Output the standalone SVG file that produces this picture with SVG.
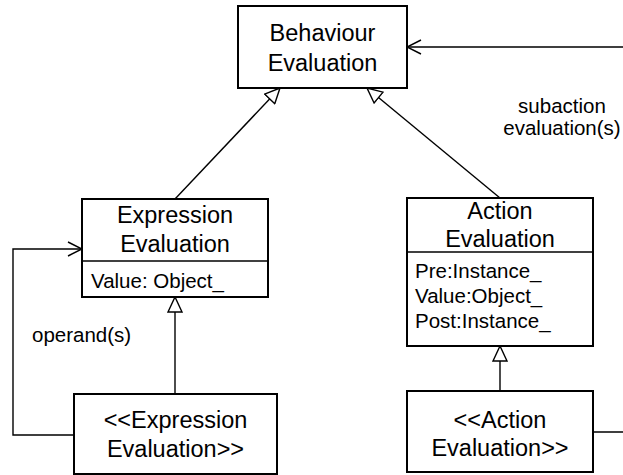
<svg xmlns="http://www.w3.org/2000/svg" width="623" height="475" viewBox="0 0 623 475">
<style>
.box{fill:#fff;stroke:#000;stroke-width:2}
.div{stroke:#000;stroke-width:1.5}
.t{font-family:"Liberation Sans",Arial,sans-serif;font-size:23.5px;fill:#000;text-anchor:middle}
.a{font-family:"Liberation Sans",Arial,sans-serif;font-size:20.5px;fill:#000}
.c{fill:none;stroke:#000;stroke-width:1.4}
</style>
<defs>
<marker id="tri" viewBox="0 0 16 16" refX="16" refY="8" markerWidth="16" markerHeight="16" markerUnits="userSpaceOnUse" orient="auto">
<path d="M1,1 L16,8 L1,15 Z" fill="#fff" stroke="#000" stroke-width="1.4"/>
</marker>
<marker id="open" viewBox="0 0 16 16" refX="15" refY="8" markerWidth="16" markerHeight="16" markerUnits="userSpaceOnUse" orient="auto">
<path d="M1,1 L15,8 L1,15" fill="none" stroke="#000" stroke-width="1.4"/>
</marker>
</defs>
<g id="connectors">
<path class="c" d="M175,199 L280,88" marker-end="url(#tri)"/>
<path class="c" d="M500,198 L367,88" marker-end="url(#tri)"/>
<path class="c" d="M175,394 L175,297" marker-end="url(#tri)"/>
<path class="c" d="M500,391 L500,346" marker-end="url(#tri)"/>
<path class="c" d="M74,435 H13 V249 H82" marker-end="url(#open)"/>
<path class="c" d="M593,432 H623 M623,47 H407" marker-end="url(#open)"/>
<text class="a" x="32" y="342">operand(s)</text>
<text class="a" x="562" y="113" text-anchor="middle">subaction</text>
<text class="a" x="562" y="135" text-anchor="middle">evaluation(s)</text>
</g>
<g id="behaviour">
<rect class="box" x="238" y="6" width="169" height="82"/>
<text class="t" x="322.5" y="41">Behaviour</text>
<text class="t" x="322.5" y="71">Evaluation</text>
</g>
<g id="expression">
<rect class="box" x="82" y="199" width="186" height="98"/>
<line class="div" x1="82" y1="261" x2="268" y2="261"/>
<text class="t" x="175" y="223">Expression</text>
<text class="t" x="175" y="252">Evaluation</text>
<text class="a" x="91" y="288">Value: Object_</text>
</g>
<g id="action">
<rect class="box" x="407" y="198" width="186" height="148"/>
<line class="div" x1="407" y1="252" x2="593" y2="252"/>
<text class="t" x="500" y="219">Action</text>
<text class="t" x="500" y="247">Evaluation</text>
<text class="a" x="415" y="278">Pre:Instance_</text>
<text class="a" x="415" y="303">Value:Object_</text>
<text class="a" x="415" y="328">Post:Instance_</text>
</g>
<g id="expression-instance">
<rect class="box" x="74" y="394" width="203" height="80"/>
<text class="t" x="175.5" y="428">&lt;&lt;Expression</text>
<text class="t" x="175.5" y="457">Evaluation&gt;&gt;</text>
</g>
<g id="action-instance">
<rect class="box" x="407" y="391" width="186" height="81"/>
<text class="t" x="500" y="428">&lt;&lt;Action</text>
<text class="t" x="500" y="456">Evaluation&gt;&gt;</text>
</g>
</svg>
